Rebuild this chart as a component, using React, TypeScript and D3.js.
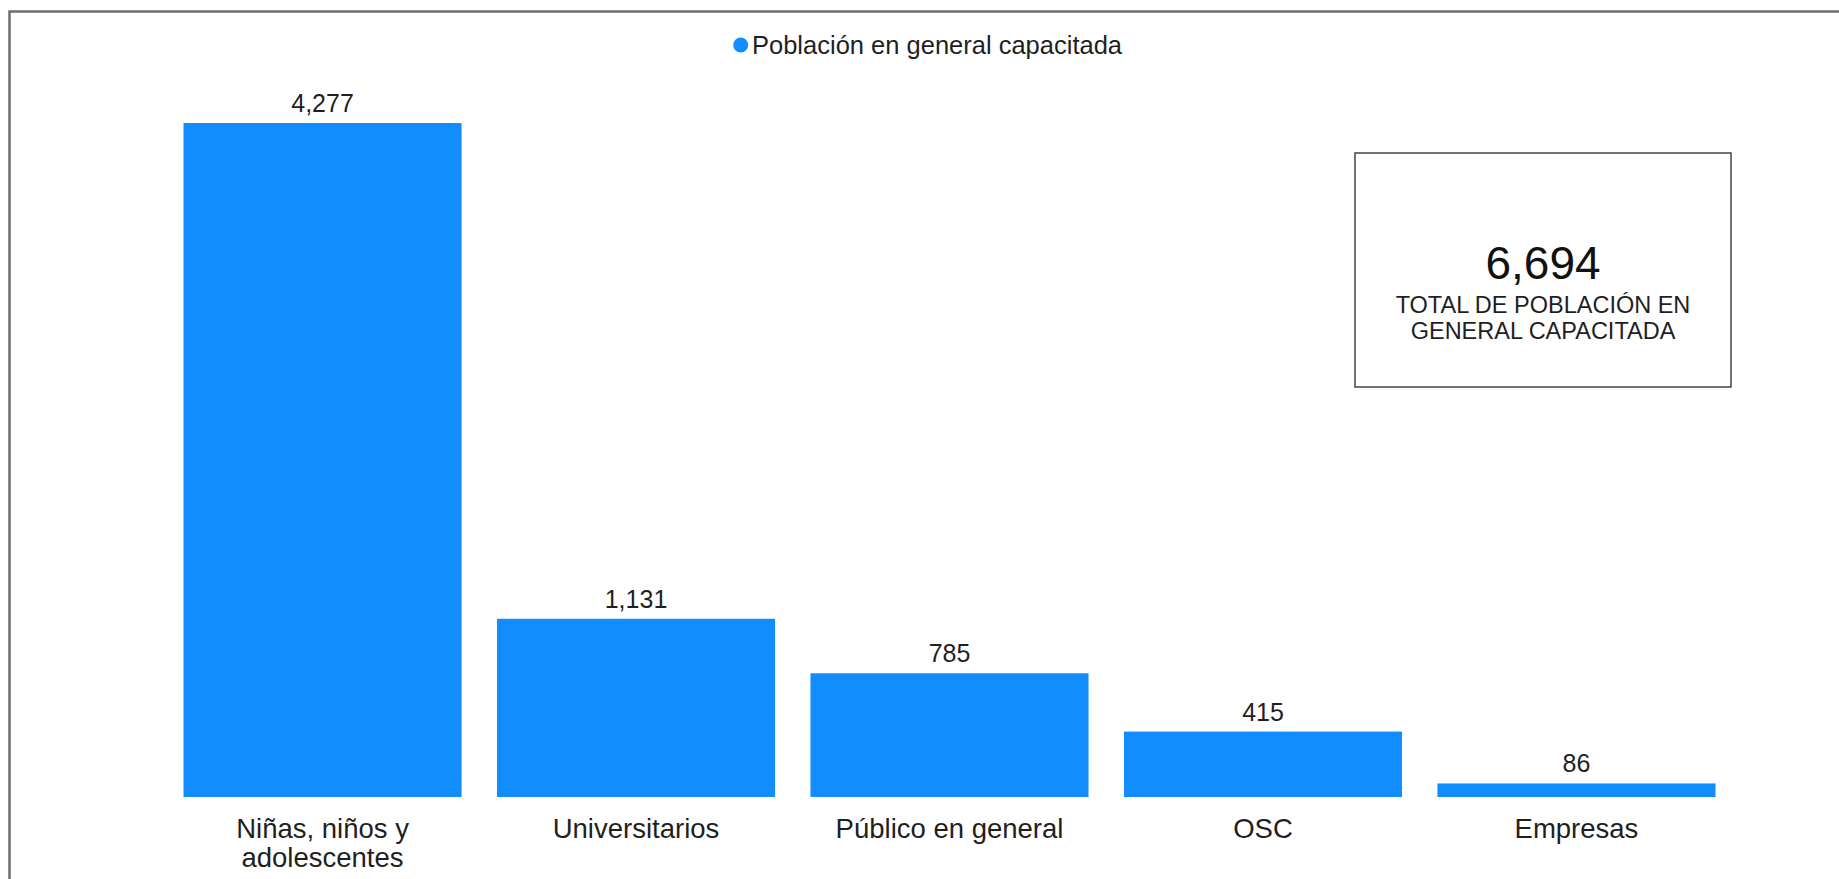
import React, { useEffect, useRef } from 'react';
import * as d3 from 'd3';

const categories = ['Niñas, niños y adolescentes', 'Universitarios', 'Público en general', 'OSC', 'Empresas'];
const values = [4277, 1131, 785, 415, 86];
const seriesName = 'Población en general capacitada';
const totalValue = 6694;
const totalLines = ['TOTAL DE POBLACIÓN EN', 'GENERAL CAPACITADA'];

const W = 1839;
const H = 879;
const FONT = '"Liberation Sans", Arial, sans-serif';
const BLUE = '#118DFF';
const TEXT = '#1f1f1f';

export default function App() {
  const svgRef = useRef<SVGSVGElement>(null);

  useEffect(() => {
    if (!svgRef.current) return;
    const svg = d3.select(svgRef.current);
    svg.selectAll('*').remove();

    svg.append('rect').attr('width', W).attr('height', H).attr('fill', '#fff');

    // outer frame (right and bottom edges fall outside the view)
    svg.append('rect')
      .attr('x', 9.5).attr('y', 11.5)
      .attr('width', W + 50).attr('height', H + 50)
      .attr('fill', 'none')
      .attr('stroke', '#6e6e6e')
      .attr('stroke-width', 2.5);

    const x = d3.scaleBand<string>()
      .domain(categories)
      .range([183.5, 1715.5])
      .paddingInner(0.113)
      .paddingOuter(0);

    const y = d3.scaleLinear()
      .domain([0, d3.max(values) as number])
      .range([797, 123]);

    const data = categories.map((c, i) => ({ c, v: values[i] }));

    // legend
    const legend = svg.append('g');
    legend.append('circle')
      .attr('cx', 740.7).attr('cy', 45).attr('r', 7.5)
      .attr('fill', BLUE);
    legend.append('text')
      .attr('x', 752).attr('y', 53.5)
      .attr('font-family', FONT).attr('font-size', 25.5)
      .attr('fill', TEXT)
      .text(seriesName);

    // bars
    svg.append('g').selectAll('rect')
      .data(data)
      .join('rect')
      .attr('x', d => x(d.c)!)
      .attr('y', d => y(d.v))
      .attr('width', x.bandwidth())
      .attr('height', d => y(0) - y(d.v))
      .attr('fill', BLUE);

    // data labels
    svg.append('g').selectAll('text')
      .data(data)
      .join('text')
      .attr('x', d => x(d.c)! + x.bandwidth() / 2)
      .attr('y', d => y(d.v) - 11)
      .attr('text-anchor', 'middle')
      .attr('font-family', FONT).attr('font-size', 25)
      .attr('fill', TEXT)
      .text(d => d3.format(',')(d.v));

    // category labels, wrapped to band width
    const catG = svg.append('g');
    categories.forEach(c => {
      const cx = x(c)! + x.bandwidth() / 2;
      const t = catG.append('text')
        .attr('x', cx)
        .attr('y', 838)
        .attr('text-anchor', 'middle')
        .attr('font-family', FONT).attr('font-size', 27.5)
        .attr('fill', TEXT);
      const words = c.split(' ');
      let line: string[] = [];
      let tspan = t.append('tspan').attr('x', cx).attr('dy', 0);
      words.forEach(w => {
        line.push(w);
        tspan.text(line.join(' '));
        if ((tspan.node() as SVGTSpanElement).getComputedTextLength() > x.bandwidth() && line.length > 1) {
          line.pop();
          tspan.text(line.join(' '));
          line = [w];
          tspan = t.append('tspan')
            .attr('x', cx)
            .attr('dy', 29)
            .text(w);
        }
      });
    });

    // total card
    const card = svg.append('g');
    card.append('rect')
      .attr('x', 1355).attr('y', 153)
      .attr('width', 376).attr('height', 234)
      .attr('fill', '#fff')
      .attr('stroke', '#444')
      .attr('stroke-width', 1.5);
    card.append('text')
      .attr('x', 1543).attr('y', 279)
      .attr('text-anchor', 'middle')
      .attr('font-family', FONT).attr('font-size', 46)
      .attr('fill', '#111')
      .text(d3.format(',')(totalValue));
    totalLines.forEach((l, i) => {
      card.append('text')
        .attr('x', 1543).attr('y', 313 + i * 26)
        .attr('text-anchor', 'middle')
        .attr('font-family', FONT).attr('font-size', 23.5)
        .attr('fill', TEXT)
        .text(l);
    });
  }, []);

  return (
    <svg
      ref={svgRef}
      width={W}
      height={H}
      style={{ position: 'absolute', left: 0, top: 0, display: 'block' }}
    />
  );
}
